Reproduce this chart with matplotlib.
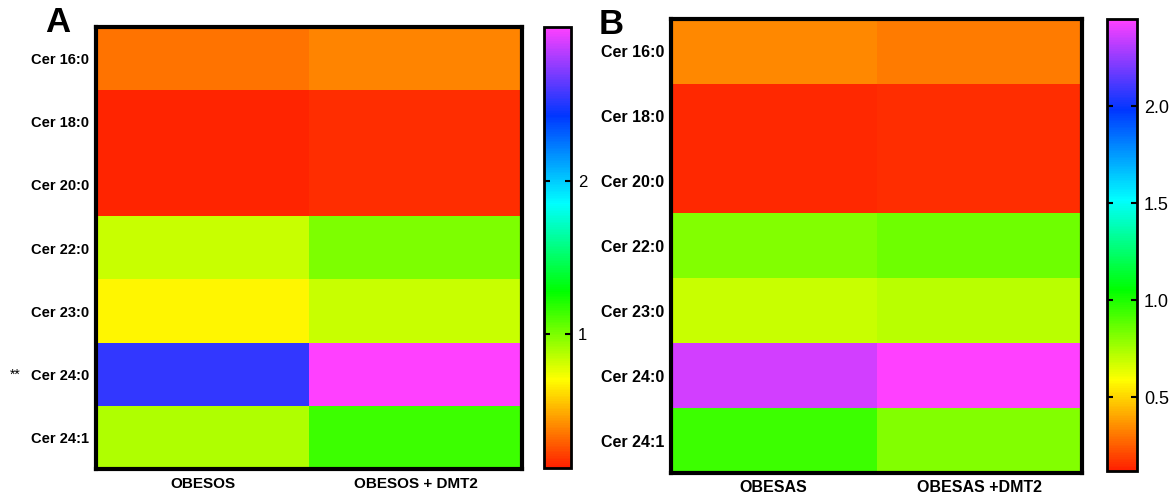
import numpy as np
import matplotlib
matplotlib.use("Agg")
import matplotlib.pyplot as plt
from matplotlib.colors import LinearSegmentedColormap, Normalize

plt.rcParams['font.family'] = ['Liberation Sans', 'DejaVu Sans']

lipids = ["Cer 16:0", "Cer 18:0", "Cer 20:0", "Cer 22:0", "Cer 23:0", "Cer 24:0", "Cer 24:1"]
groups_a = ["OBESOS", "OBESOS + DMT2"]
groups_b = ["OBESAS", "OBESAS +DMT2"]

# fold-change values (rows = lipids, columns = groups)
obesos      = [0.35, 0.15, 0.15, 0.83, 0.68, 2.54, 0.89]
obesos_dmt2 = [0.39, 0.17, 0.17, 1.00, 0.83, 3.00, 1.14]
obesas      = [0.34, 0.14, 0.14, 0.82, 0.69, 2.36, 0.94]
obesas_dmt2 = [0.32, 0.15, 0.15, 0.85, 0.72, 2.45, 0.82]

range_a = (0.13, 3.0)
range_b = (0.12, 2.45)
ticks_a = [1, 2]
ticks_b = [0.5, 1.0, 1.5, 2.0]
tick_labels_b = ["0.5", "1.0", "1.5", "2.0"]
marks_a = {"Cer 24:0": "**"}

cmap = LinearSegmentedColormap.from_list("prism_rainbow", [
    (0.0, "#FF2000"), (0.2, "#FFFF00"), (0.4, "#00FF00"),
    (0.6, "#00FFFF"), (0.8, "#0036FF"), (1.0, "#FF40FF")])

fig = plt.figure(figsize=(11.74, 4.95), dpi=100)
W, H = 1174, 495

def fax(x0, y0, x1, y1):
    return fig.add_axes([x0 / W, 1 - y1 / H, (x1 - x0) / W, (y1 - y0) / H])

def panel(hbox, cbox, c1, c2, groups, vrange, ticks, tlabels, ylab_size, xlab_size, xpad, cb_size):
    ax = fax(*hbox)
    data = np.column_stack([c1, c2])
    norm = Normalize(vmin=vrange[0], vmax=vrange[1])
    im = ax.imshow(data, cmap=cmap, norm=norm, aspect='auto', interpolation='nearest')
    ax.set_yticks(range(len(lipids)))
    ax.set_yticklabels(lipids, fontsize=ylab_size, fontweight='bold')
    ax.set_xticks(range(len(groups)))
    ax.set_xticklabels(groups, fontsize=xlab_size, fontweight='bold')
    ax.tick_params(axis='x', length=0, pad=xpad)
    ax.tick_params(axis='y', length=0, pad=5)
    for s in ax.spines.values():
        s.set_linewidth(3)
    cax = fax(*cbox)
    cb = fig.colorbar(im, cax=cax)
    cb.set_ticks(ticks)
    cb.set_ticklabels(tlabels)
    cb.outline.set_linewidth(2)
    cax.tick_params(direction='in', left=True, right=True, length=4, width=1.5,
                    labelsize=cb_size, pad=5)
    return ax

axA = panel((96, 27, 522, 469), (544, 27, 571, 468), obesos, obesos_dmt2, groups_a,
            range_a, ticks_a, [str(t) for t in ticks_a], 10.5, 11, 6, 12)
axB = panel((671, 19, 1082, 473), (1107, 19, 1137, 471), obesas, obesas_dmt2, groups_b,
            range_b, ticks_b, tick_labels_b, 11.5, 11.5, 5, 13)

for lab, mark in marks_a.items():
    i = lipids.index(lab)
    axA.annotate(mark, xy=(0, i), xycoords=('figure pixels', 'data'),
                 xytext=(15, 0), textcoords='offset pixels',
                 ha='center', va='center', fontsize=10)

fig.text(58 / W, 1 - 22 / H, "A", fontsize=25, fontweight='bold', ha='center', va='center')
fig.text(611 / W, 1 - 25 / H, "B", fontsize=25, fontweight='bold', ha='center', va='center')

fig.savefig("out.png", dpi=100)
